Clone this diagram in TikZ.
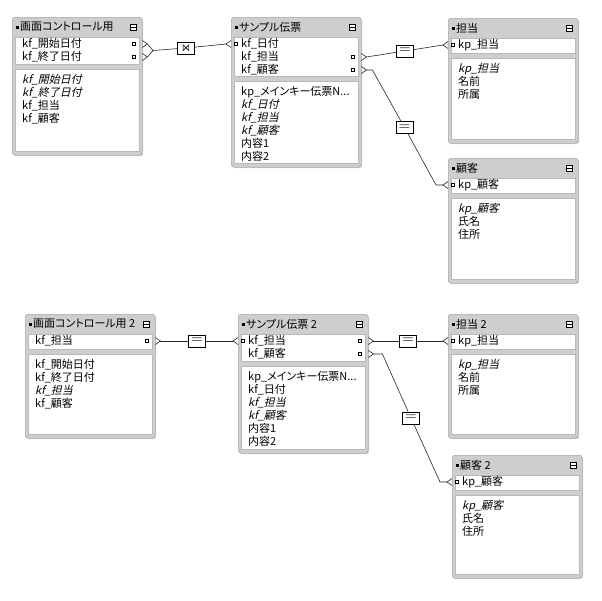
\documentclass[tikz,border=0pt]{standalone}
\usepackage{amssymb}
\usepackage{fontspec}
\setmainfont[RawFeature={+palt}]{Noto Sans CJK JP}
\newfontfamily\slfont[RawFeature={+palt},FakeSlant=0.22]{Noto Sans CJK JP}
\usetikzlibrary{shadows,positioning}
\definecolor{fmgray}{RGB}{206,206,206}
\definecolor{fmedge}{RGB}{150,150,150}

\tikzset{
  tblframe/.style={draw=fmedge,fill=fmgray,rounded corners=3pt,inner sep=0pt,
    drop shadow={shadow xshift=1pt,shadow yshift=-1pt,fill=gray!60,opacity=0.6}},
  tblarea/.style={draw=gray!55,fill=white,inner sep=0pt,anchor=north west},
  tbltitle/.style={inner sep=0pt,anchor=west,font=\fontsize{11}{12}\selectfont},
  tblmin/.style={draw,fill=white,minimum width=6.5pt,minimum height=5.5pt,inner sep=0pt,line width=0.5pt},
  tblicon/.style={fill=black,minimum width=3pt,minimum height=3pt,inner sep=0pt},
  keyrow/.style={inner xsep=10pt,inner ysep=0pt,minimum height=12pt,text width=110pt,align=left,
    anchor=west,font=\fontsize{11}{12}\selectfont},
  bodytext/.style={inner sep=0pt,anchor=north west,text width=116pt,align=left,font=\fontsize{11}{13}\selectfont},
  kdot/.style={draw,fill=white,minimum size=3pt,inner sep=0pt,line width=0.5pt},
  rel/.style={draw,fill=white,minimum width=17pt,minimum height=12pt,inner sep=0pt,line width=0.7pt},
  conn/.style={line width=0.6pt,black!85}
}

% name, x, y, w, h, key area height, title, body rows
\newcommand{\fmtable}[8]{%
  \node[tblframe,minimum width=#4pt,minimum height=#5pt,anchor=north west] (#1) at (#2,#3) {};
  \node[tblicon] at (#2+5,#3+10) {};
  \node[tbltitle] (#1-t) at (#2+8,#3+10) {#7};
  \node[tblmin] (#1-m) at (#2+#4-9,#3+10) {};
  \draw[line width=0.5pt] (#1-m.west) -- (#1-m.east);
  \node[tblarea,minimum width=#4pt-6pt,minimum height=#6pt] (#1-k) at (#2+3,#3+20) {};
  \node[tblarea,minimum width=#4pt-6pt,minimum height=#5pt-#6pt-29pt] (#1-a) at (#2+3,#3+25+#6) {};
  \node[bodytext] (#1-b) at (#2+10,#3+30+#6) {#8};
}
\newcommand{\outfoot}[1]{\draw[conn] ([yshift=3.5pt]#1.east) -- ([xshift=5pt]#1.east) -- ([yshift=-3.5pt]#1.east);}
\newcommand{\infoot}[1]{\draw[conn] ([yshift=3.5pt]#1.west) -- ([xshift=-5pt]#1.west) -- ([yshift=-3.5pt]#1.west);}
\newcommand{\releq}{\scalebox{1.5}{$=$}}
\newcommand{\reljoin}{\scalebox{1.3}{$\Join$}}

\begin{document}
\begin{tikzpicture}[x=1pt,y=-1pt]
\fill[white] (0,0) rectangle (602,600);
\useasboundingbox (0,0) rectangle (602,600);

% upper graph
\fmtable{A}{12}{17}{130}{138}{27}{画面コントロール用}
  {{\slfont kf\_開始日付}\\{\slfont kf\_終了日付}\\kf\_担当\\kf\_顧客}
\node[keyrow] (A1) at (12,44) {kf\_開始日付};
\node[keyrow] (A2) at (12,57) {kf\_終了日付};
\node[kdot] at ([xshift=-9pt]A1.east) {};
\node[kdot] at ([xshift=-9pt]A2.east) {};

\fmtable{B}{231}{17}{130}{150}{39}{サンプル伝票}
  {kp\_メインキー伝票N...\\{\slfont kf\_日付}\\{\slfont kf\_担当}\\{\slfont kf\_顧客}\\内容1\\内容2}
\node[keyrow] (B1) at (231,44) {kf\_日付};
\node[keyrow] (B2) at (231,57) {kf\_担当};
\node[keyrow] (B3) at (231,70) {kf\_顧客};
\node[kdot] at ([xshift=5pt]B1.west) {};
\node[kdot] at ([xshift=-9pt]B2.east) {};
\node[kdot] at ([xshift=-9pt]B3.east) {};

\fmtable{C}{448}{18}{130}{125}{15}{担当}
  {{\slfont kp\_担当}\\名前\\所属}
\node[keyrow] (C1) at (448,45) {kp\_担当};
\node[kdot] at ([xshift=5pt]C1.west) {};

\fmtable{D}{448}{158}{130}{125}{15}{顧客}
  {{\slfont kp\_顧客}\\氏名\\住所}
\node[keyrow] (D1) at (448,185) {kp\_顧客};
\node[kdot] at ([xshift=5pt]D1.west) {};

\node[rel] (r1) at (186,48) {\reljoin};
\node[rel] (r2) at (405,51) {\releq};
\node[rel] (r3) at (404.5,127.5) {\releq};
\coordinate (Aj) at (153,50.5);
\outfoot{A1} \outfoot{A2} \infoot{B1}
\draw[conn] ([xshift=5pt]A1.east) -- (Aj) -- ([xshift=5pt]A2.east);
\draw[conn] (Aj) -- (r1) -- ([xshift=-5pt]B1.west);
\outfoot{B2} \infoot{C1}
\draw[conn] ([xshift=5pt]B2.east) -- (r2) -- ([xshift=-5pt]C1.west);
\outfoot{B3} \infoot{D1}
\draw[conn] ([xshift=5pt]B3.east) -- ([xshift=11pt]B3.east) -- (r3);
\draw[conn] (r3) -- ([xshift=-12pt]D1.west) -- ([xshift=-5pt]D1.west);

% lower graph
\fmtable{E}{25}{314}{130}{124}{15}{画面コントロール用 2}
  {kf\_開始日付\\kf\_終了日付\\{\slfont kf\_担当}\\kf\_顧客}
\node[keyrow] (E1) at (25,341) {kf\_担当};
\node[kdot] at ([xshift=-9pt]E1.east) {};

\fmtable{F}{238}{314}{130}{139}{27}{サンプル伝票 2}
  {kp\_メインキー伝票N...\\kf\_日付\\{\slfont kf\_担当}\\{\slfont kf\_顧客}\\内容1\\内容2}
\node[keyrow] (F1) at (238,341) {kf\_担当};
\node[keyrow] (F2) at (238,354) {kf\_顧客};
\node[kdot] at ([xshift=5pt]F1.west) {};
\node[kdot] at ([xshift=-9pt]F1.east) {};
\node[kdot] at ([xshift=-9pt]F2.east) {};

\fmtable{G}{448}{314}{130}{124}{15}{担当 2}
  {{\slfont kp\_担当}\\名前\\所属}
\node[keyrow] (G1) at (448,341) {kp\_担当};
\node[kdot] at ([xshift=5pt]G1.west) {};

\fmtable{H}{452}{455}{130}{123}{15}{顧客 2}
  {{\slfont kp\_顧客}\\氏名\\住所}
\node[keyrow] (H1) at (452,482) {kp\_顧客};
\node[kdot] at ([xshift=5pt]H1.west) {};

\node[rel] (r4) at (197,341) {\releq};
\node[rel] (r5) at (408,341) {\releq};
\node[rel] (r6) at (411,418) {\releq};
\outfoot{E1} \infoot{F1}
\draw[conn] ([xshift=5pt]E1.east) -- (r4) -- ([xshift=-5pt]F1.west);
\outfoot{F1} \infoot{G1}
\draw[conn] ([xshift=5pt]F1.east) -- (r5) -- ([xshift=-5pt]G1.west);
\outfoot{F2} \infoot{H1}
\draw[conn] ([xshift=5pt]F2.east) -- ([xshift=14pt]F2.east) -- (r6);
\draw[conn] (r6) -- ([xshift=-12pt]H1.west) -- ([xshift=-5pt]H1.west);
\end{tikzpicture}
\end{document}
